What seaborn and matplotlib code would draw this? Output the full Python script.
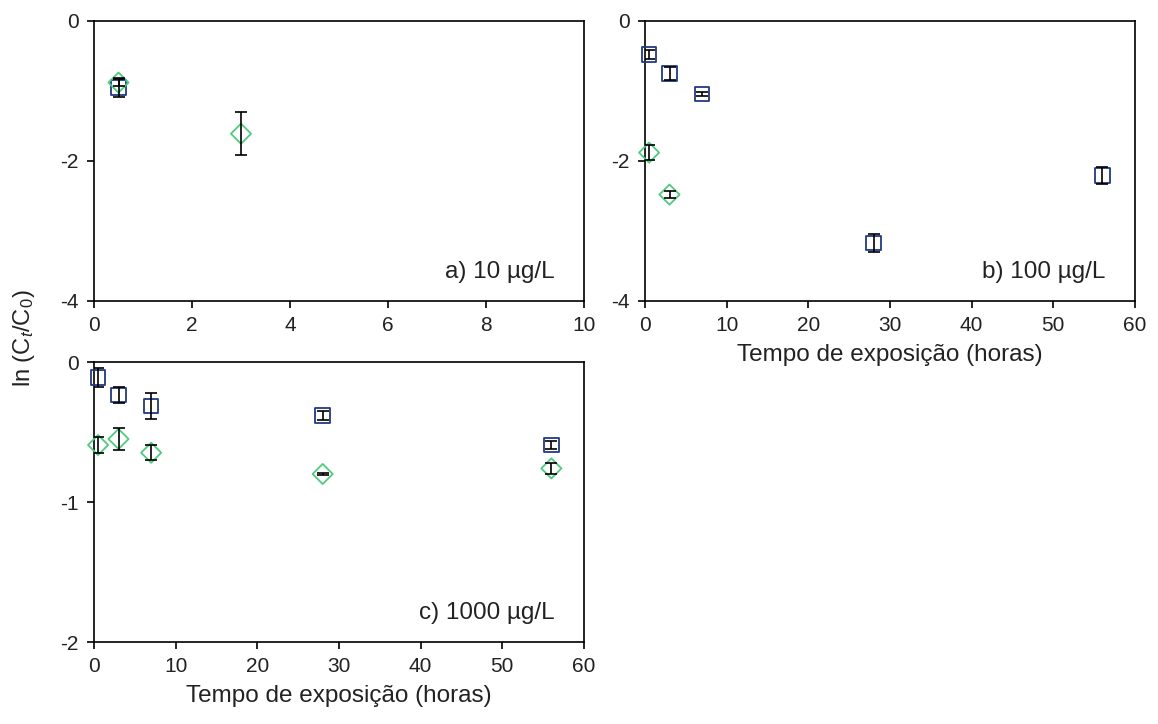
import numpy as np
import pandas as pd
import matplotlib
matplotlib.use("Agg")
import matplotlib.pyplot as plt
import seaborn as sns

# ---- dados ----
# a) 10 ug/L
a_sq_x = [0.5]
a_sq_y = [-0.95]
a_sq_e = [0.13]
a_di_x = [0.5, 3]
a_di_y = [-0.88, -1.61]
a_di_e = [0.05, 0.31]

# b) 100 ug/L
b_sq_x = [0.5, 3, 7, 28, 56]
b_sq_y = [-0.48, -0.75, -1.04, -3.17, -2.21]
b_sq_e = [0.06, 0.09, 0.03, 0.13, 0.12]
b_di_x = [0.5, 3]
b_di_y = [-1.88, -2.48]
b_di_e = [0.11, 0.05]

# c) 1000 ug/L
c_sq_x = [0.5, 3, 7, 28, 56]
c_sq_y = [-0.11, -0.236, -0.314, -0.383, -0.593]
c_sq_e = [0.067, 0.06, 0.09, 0.03, 0.03]
c_di_x = [0.5, 3, 7, 28, 56]
c_di_y = [-0.593, -0.55, -0.648, -0.80, -0.76]
c_di_e = [0.054, 0.079, 0.054, 0.01, 0.04]

panels = {
    "a": dict(sq=(a_sq_x, a_sq_y, a_sq_e), di=(a_di_x, a_di_y, a_di_e),
              xlim=(0, 10), xticks=[0, 2, 4, 6, 8, 10],
              ylim=(-4, 0), yticks=[-4, -2, 0], label="a) 10 µg/L"),
    "b": dict(sq=(b_sq_x, b_sq_y, b_sq_e), di=(b_di_x, b_di_y, b_di_e),
              xlim=(0, 60), xticks=[0, 10, 20, 30, 40, 50, 60],
              ylim=(-4, 0), yticks=[-4, -2, 0], label="b) 100 µg/L"),
    "c": dict(sq=(c_sq_x, c_sq_y, c_sq_e), di=(c_di_x, c_di_y, c_di_e),
              xlim=(0, 60), xticks=[0, 10, 20, 30, 40, 50, 60],
              ylim=(-2, 0), yticks=[-2, -1, 0], label="c) 1000 µg/L"),
}

sq_color = "#22397F"
di_color = "#4FCB7E"

sns.set_style("white")
plt.rcParams["font.family"] = ["Liberation Sans", "DejaVu Sans"]
plt.rcParams["axes.unicode_minus"] = False
plt.rcParams["mathtext.fontset"] = "custom"
plt.rcParams["mathtext.rm"] = "Liberation Sans"
plt.rcParams["mathtext.it"] = "Liberation Sans:italic"
plt.rcParams["text.color"] = "#222222"
plt.rcParams["axes.labelcolor"] = "#222222"
plt.rcParams["xtick.labelcolor"] = "#222222"
plt.rcParams["ytick.labelcolor"] = "#222222"

W, H = 1158, 724
fig = plt.figure(figsize=(W / 100, H / 100), dpi=100)

def px_axes(left, top, right, bottom):
    return fig.add_axes([left / W, 1 - bottom / H, (right - left) / W, (bottom - top) / H])

axes = {
    "a": px_axes(94, 21, 584, 301),
    "b": px_axes(645, 21, 1135, 301),
    "c": px_axes(94, 362, 584, 642),
}

for key, ax in axes.items():
    p = panels[key]
    for series, marker, color in [("sq", "s", sq_color), ("di", "D", di_color)]:
        x, y, e = p[series]
        df = pd.DataFrame({"x": x, "y": y, "e": e})
        ax.errorbar(df["x"], df["y"], yerr=df["e"], fmt="none", ecolor="black",
                    elinewidth=1.2, capsize=4, capthick=1.2, zorder=4)
        sns.scatterplot(data=df, x="x", y="y", ax=ax, marker=marker,
                        s=110 if marker == "s" else 105, facecolor="none",
                        edgecolor=color, linewidth=1.3, zorder=3, clip_on=False)
    ax.set_xlim(p["xlim"])
    ax.set_ylim(p["ylim"])
    ax.set_xticks(p["xticks"])
    ax.set_yticks(p["yticks"])
    ax.set_xlabel("")
    ax.set_ylabel("")
    for s in ax.spines.values():
        s.set_color("black")
        s.set_linewidth(1.2)
    ax.tick_params(direction="out", length=5, width=1.2, color="black",
                   labelsize=15, left=True, bottom=True, pad=6)
    ax.text(0.94, 0.081, p["label"], transform=ax.transAxes,
            ha="right", va="baseline", fontsize=17.5)

axes["b"].set_xlabel("Tempo de exposição (horas)", fontsize=17.5, labelpad=6)
axes["c"].set_xlabel("Tempo de exposição (horas)", fontsize=17.5, labelpad=6)

fig.text(24 / W, 1 - 338 / H, r"ln (C$_{\mathit{t}}$/C$_0$)", rotation=90,
         ha="center", va="center", fontsize=17)

fig.savefig("out.png", dpi=100)
